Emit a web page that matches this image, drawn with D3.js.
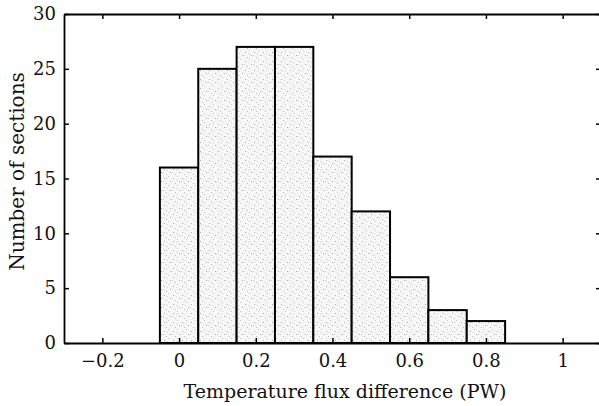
<!DOCTYPE html>
<html>
<head>
<meta charset="utf-8">
<script src="https://cdn.jsdelivr.net/npm/d3@7"></script>
<style>
  body { margin: 0; background: #fff; }
  text { font-family: "DejaVu Serif", "Liberation Serif", serif; fill: #111; }
</style>
</head>
<body>
<div id="svg_container"></div>
<script>
// histogram bins (left edge) and counts
const binStarts = [-0.05, 0.05, 0.15, 0.25, 0.35, 0.45, 0.55, 0.65, 0.75];
const binWidth = 0.1;
const counts = [16, 25, 27, 27, 17, 12, 6, 3, 2];
const xTicks = [-0.2, 0, 0.2, 0.4, 0.6, 0.8, 1];
const yTicks = [0, 5, 10, 15, 20, 25, 30];

const W = 599, H = 406;
const margin = { top: 14, right: -2, bottom: 63, left: 64 };
const width = W - margin.left - margin.right,
    height = H - margin.top - margin.bottom;

const root = d3.select("#svg_container")
    .append("svg")
    .attr("width", W)
    .attr("height", H);

// stippled fill like the printed figure
const pat = root.append("defs").append("pattern")
    .attr("id", "stipple")
    .attr("patternUnits", "userSpaceOnUse")
    .attr("width", 9).attr("height", 9);
pat.append("rect").attr("width", 9).attr("height", 9).attr("fill", "#f7f7f7");
[[1, 2, "#aaa"], [5, 0, "#c4c4c4"], [7, 5, "#aaa"], [3, 7, "#bbb"], [0, 5, "#d0d0d0"], [4, 3, "#d6d6d6"]]
    .forEach(p => pat.append("rect").attr("x", p[0]).attr("y", p[1])
        .attr("width", 1).attr("height", 1).attr("fill", p[2]));

const svg = root.append("g")
    .attr("transform", `translate(${margin.left}, ${margin.top})`);

const x = d3.scaleLinear().domain([-0.3, 1.1]).range([0, width]);
const y = d3.scaleLinear().domain([0, 30]).range([height, 0]);

// bars
svg.append("g")
    .selectAll("rect")
    .data(counts)
    .enter()
    .append("rect")
    .attr("x", (d, i) => x(binStarts[i]))
    .attr("y", d => y(d))
    .attr("width", (d, i) => x(binStarts[i] + binWidth) - x(binStarts[i]))
    .attr("height", d => y(0) - y(d))
    .attr("fill", "url(#stipple)")
    .attr("stroke", "#000")
    .attr("stroke-width", 2);

const fmt = d => d === 0 ? "0" : d === 1 ? "1" : d3.format(".1f")(d).replace("-", "\u2212");

// bottom axis
const xb = svg.append("g")
    .attr("transform", `translate(0,${height})`)
    .call(d3.axisBottom(x).tickValues(xTicks).tickSizeInner(-5).tickSizeOuter(0).tickPadding(11).tickFormat(fmt));
// top axis
const xt = svg.append("g")
    .call(d3.axisTop(x).tickValues(xTicks).tickSizeInner(-5).tickSizeOuter(0).tickFormat(""));
// left axis
const yl = svg.append("g")
    .call(d3.axisLeft(y).tickValues(yTicks).tickSizeInner(-5).tickSizeOuter(0).tickPadding(8));
// right axis
const yr = svg.append("g")
    .attr("transform", `translate(${width},0)`)
    .call(d3.axisRight(y).tickValues(yTicks).tickSizeInner(-5).tickSizeOuter(0).tickFormat(""));

[xb, xt, yl, yr].forEach(g => {
    g.select(".domain").attr("stroke", "#000").attr("stroke-width", 1.8);
    g.selectAll(".tick line").attr("stroke", "#000").attr("stroke-width", 1.5);
    g.selectAll("text").style("font-size", "18px").attr("fill", "#111");
});

svg.append("text")
    .attr("x", 281)
    .attr("y", height + 55)
    .attr("text-anchor", "middle")
    .style("font-size", "19px")
    .text("Temperature flux difference (PW)");

svg.append("text")
    .attr("transform", `translate(-40,${height / 2 - 7}) rotate(-90)`)
    .attr("text-anchor", "middle")
    .style("font-size", "20px")
    .text("Number of sections");
</script>
</body>
</html>
